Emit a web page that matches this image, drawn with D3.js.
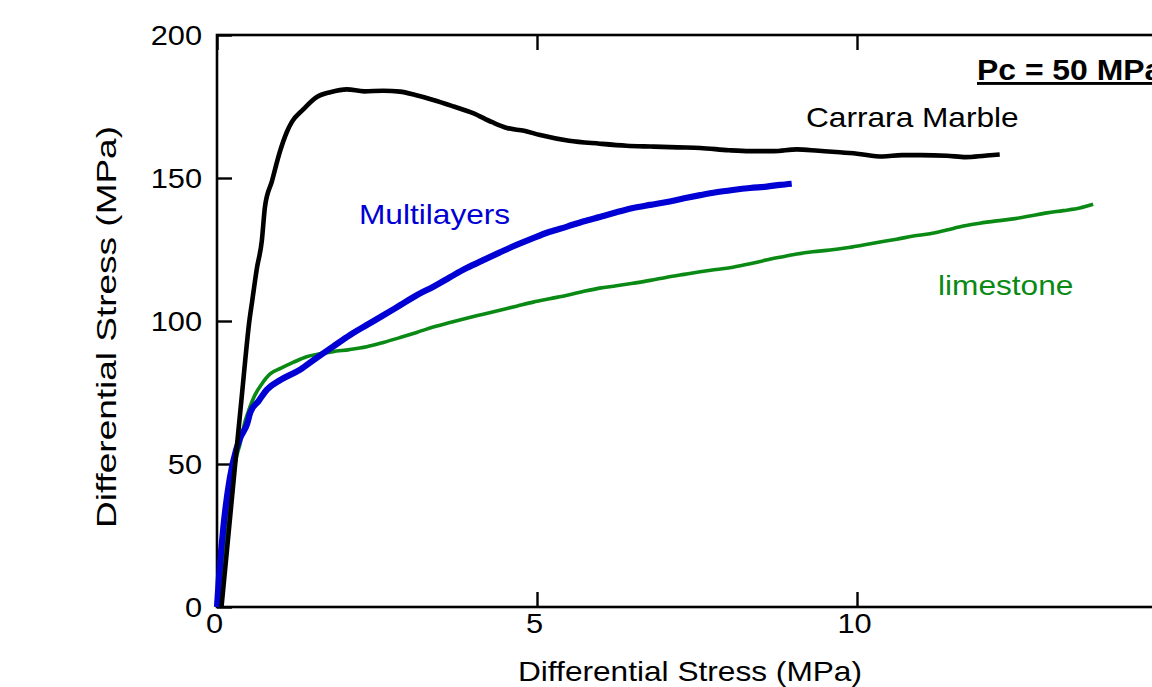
<!DOCTYPE html>
<html><head><meta charset="utf-8">
<script src="https://cdn.jsdelivr.net/npm/d3@7"></script>
<style>
html,body{margin:0;padding:0;background:#fff;overflow:hidden}
text{font-family:"Liberation Sans",Arial,sans-serif}
</style></head>
<body><svg id="c" width="1152" height="687"></svg>
<script>
// ---- data ----
const marbleX = [0.07,0.13,0.22,0.31,0.38,0.44,0.5,0.55,0.62,0.7,0.75,0.86,0.98,1.09,1.17,1.34,1.56,1.77,2.03,2.3,2.6,2.86,3.1,3.38,3.7,4.0,4.3,4.53,4.8,5.05,5.5,5.98,6.4,6.77,7.2,7.55,8.0,8.33,8.7,9.06,9.4,9.73,10.0,10.4,10.7,11.0,11.4,11.7,12.0,12.23];
const marbleY = [0,14,35,56,72,86,99,107,118,128,140,149,159,166,169.6,173.8,178.3,180,181,180.3,180.5,180.2,179,177.3,175,172.7,169.5,167.5,166.5,165,163,162,161.3,161,160.7,160.5,159.7,159.4,159.4,160,159.5,159,158.5,157.5,158,158,157.8,157.3,157.8,158.2];

const multiX = [0,0.03,0.1,0.2,0.3,0.36,0.47,0.52,0.65,0.78,1.0,1.3,1.55,1.81,2.07,2.34,2.6,2.86,3.12,3.38,3.64,3.9,4.16,4.42,4.68,4.94,5.2,5.47,5.72,5.98,6.24,6.5,6.77,7.03,7.3,7.55,7.8,8.06,8.33,8.59,8.8,8.98];
const multiY = [0,10,28,45,55,59,64,68,72,76,79.5,83,87,91,95,98.6,102,105.5,109,112,115.3,118.5,121.3,124,126.6,129,131.2,133,134.8,136.4,138,139.5,140.6,141.6,142.9,144,145,145.8,146.5,147,147.6,148];

const limeX = [0,0.1,0.2,0.3,0.36,0.44,0.5,0.59,0.7,0.83,1.0,1.19,1.4,1.61,1.81,2.07,2.34,2.6,2.86,3.12,3.38,3.64,3.9,4.16,4.42,4.68,4.94,5.2,5.47,5.72,5.98,6.24,6.5,6.77,7.03,7.3,7.55,7.8,8.06,8.33,8.58,8.8,9.06,9.31,9.58,9.84,10.1,10.36,10.62,10.88,11.14,11.4,11.66,11.92,12.18,12.44,12.7,12.97,13.22,13.48,13.69];
const limeY = [0,18,37,52,57,65,69,74,78,81.5,83.5,85.5,87.5,88.5,89.3,90,91,92.5,94.2,96,97.9,99.5,101,102.4,103.8,105.2,106.6,107.8,109,110.3,111.5,112.3,113.2,114.2,115.3,116.3,117.2,118,118.8,120,121.3,122.3,123.4,124.2,124.8,125.6,126.6,127.6,128.6,129.7,130.5,131.8,133.2,134.2,135,135.7,136.7,137.8,138.6,139.5,140.8];

const xTicks = [0,5,10,15];
const xTickLabels = ["0","5","10",""];
const yTicks = [0,50,100,150,200];
const seriesNames = ["Carrara Marble","Multilayers","limestone"];
const xTitle = "Differential Stress (MPa)";
const yTitle = "Differential Stress (MPa)";
const noteText = "Pc = 50 MPa";

// ---- layout ----
const mLeft = 217, mTop = 35, mBottom = 607, mRight = 217 + 15*64;
const svg = d3.select("#c");
const x = d3.scaleLinear().domain([0,15]).range([mLeft,mRight]);
const y = d3.scaleLinear().domain([0,200]).range([mBottom,mTop]);

function stretch(sel, k){
  sel.each(function(){
    const L = this.getComputedTextLength();
    if (L > 0) d3.select(this).attr("textLength", L*k).attr("lengthAdjust","spacingAndGlyphs");
  });
}

// frame
svg.append("rect").attr("x",mLeft).attr("y",mTop).attr("width",mRight-mLeft).attr("height",mBottom-mTop)
  .attr("fill","none").attr("stroke","#000").attr("stroke-width",2.6);

const fs = "28.5px";
const gx = svg.append("g").attr("transform",`translate(0,${mBottom})`)
  .call(d3.axisBottom(x).tickValues(xTicks).tickFormat((d,i)=>xTickLabels[i]).tickSizeInner(-15).tickSizeOuter(0).tickPadding(6));
const gxt = svg.append("g").attr("transform",`translate(0,${mTop})`)
  .call(d3.axisTop(x).tickValues(xTicks).tickFormat("").tickSizeInner(-15).tickSizeOuter(0));
const gy = svg.append("g").attr("transform",`translate(${mLeft},0)`)
  .call(d3.axisLeft(y).tickValues(yTicks).tickFormat(d3.format("d")).tickSizeInner(-15).tickSizeOuter(0).tickPadding(15));
[gx,gxt,gy].forEach(g=>{
  g.attr("font-family",null).attr("font-size",null);
  g.select(".domain").remove();
  g.selectAll(".tick line").attr("stroke","#000").attr("stroke-width",2.4);
  g.selectAll(".tick text").attr("font-size",fs).attr("fill","#000");
});
gx.selectAll(".tick text").attr("dx",-3);
gxt.selectAll(".tick text").remove();
stretch(gx.selectAll(".tick text"),1.08);
stretch(gy.selectAll(".tick text"),1.08);

// lines
const line = d3.line().x(d=>x(d[0])).y(d=>y(d[1])).curve(d3.curveMonotoneX);
const series = [
  {name:seriesNames[2], xs:limeX, ys:limeY, color:"#0a8a14", w:3.6},
  {name:seriesNames[1], xs:multiX, ys:multiY, color:"#0000d4", w:6.2},
  {name:seriesNames[0], xs:marbleX, ys:marbleY, color:"#000", w:4.6}
];
series.forEach(s=>{
  svg.append("path").datum(s.xs.map((v,i)=>[v,s.ys[i]]))
    .attr("d",line).attr("fill","none").attr("stroke",s.color).attr("stroke-width",s.w)
    .attr("stroke-linejoin","round").attr("stroke-linecap","butt");
});

// labels
const lab = svg.append("g").attr("font-size",fs);
lab.append("text").attr("x",806).attr("y",127).attr("fill","#000").text(seriesNames[0]);
lab.append("text").attr("x",359).attr("y",224).attr("fill","#0000d4").text(seriesNames[1]);
lab.append("text").attr("x",938).attr("y",295).attr("fill","#0a8a14").text(seriesNames[2]);
stretch(lab.selectAll("text"),1.11);

const note = svg.append("text").attr("x",977).attr("y",80).attr("font-size","29px").attr("font-weight","bold")
  .attr("fill","#000").attr("text-decoration","underline").text(noteText);
stretch(note,1.1);

svg.append("text").attr("x",690).attr("y",681).attr("text-anchor","middle").attr("font-size","28.5px").attr("fill","#000")
  .attr("textLength",344).attr("lengthAdjust","spacingAndGlyphs").text(xTitle);
svg.append("text").attr("transform","translate(116,327) rotate(-90)").attr("text-anchor","middle").attr("font-size","28.5px").attr("fill","#000")
  .attr("textLength",402).attr("lengthAdjust","spacingAndGlyphs").text(yTitle);
</script></body></html>
